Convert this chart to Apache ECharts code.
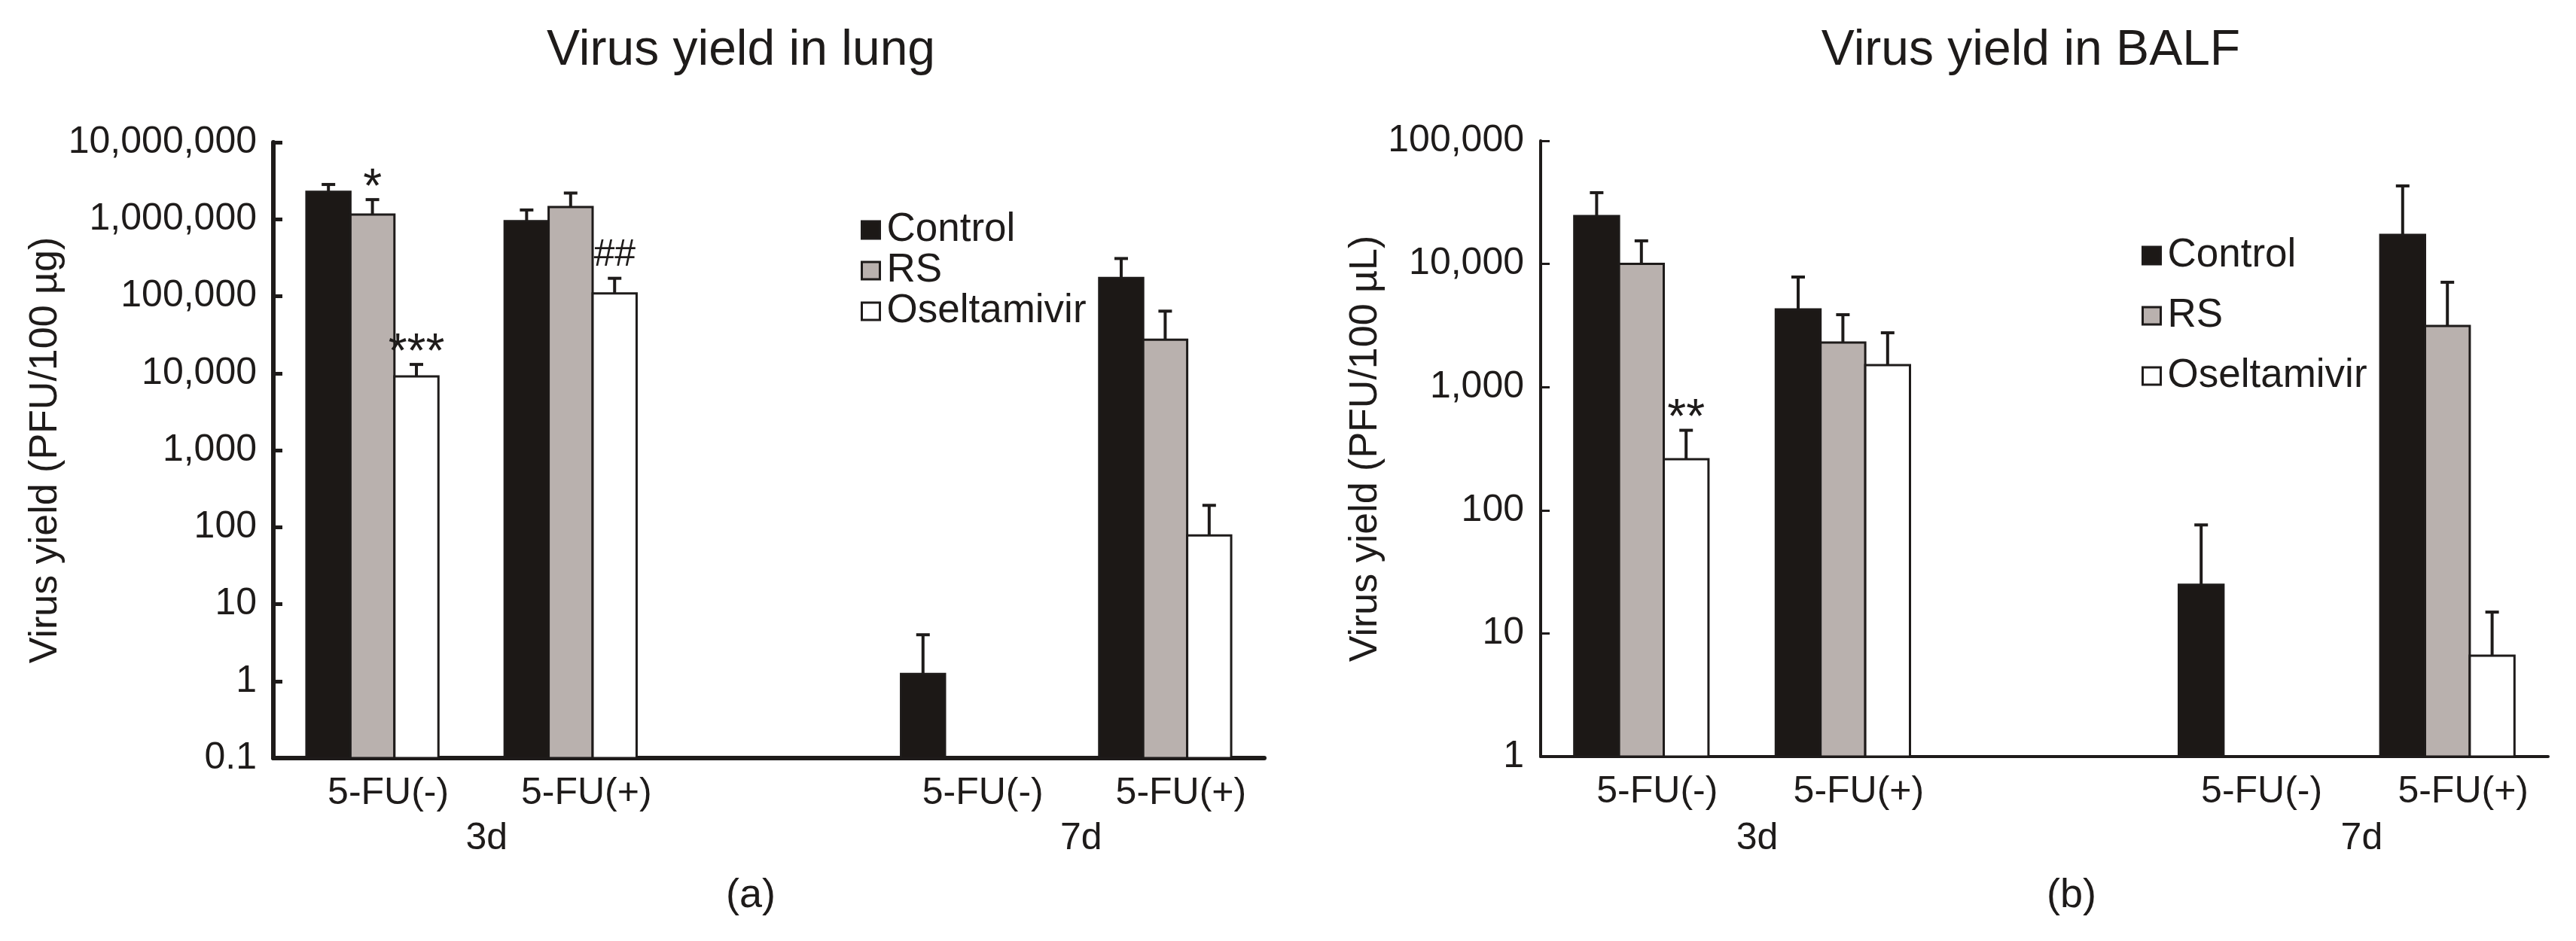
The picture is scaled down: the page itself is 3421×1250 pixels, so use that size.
<!DOCTYPE html>
<html lang="en">
<head>
<meta charset="UTF-8">
<title>Virus yield in lung / BALF</title>
<style>
  html, body { margin: 0; padding: 0; background: #fff; }
  #main { width: 3421px; height: 1250px; }
</style>
</head>
<body>
<div id="main"></div>
<script src="https://cdn.jsdelivr.net/npm/echarts@6/dist/echarts.min.js"></script>
<script>
  // categories on the x axis (third one is the empty gap between 3d and 7d)
  const categories = ['5-FU(-)', '5-FU(+)', '', '5-FU(-)', '5-FU(+)'];
  const dayLabels = ['3d', '7d'];
  const groups = ['Control', 'RS', 'Oseltamivir'];
  const groupColors = ['#1c1816', '#b9b1ae', '#ffffff'];

  // (a) lung, PFU/100 ug : bar value and top of error bar
  const lungControl = [2270000, 944000, null, 1.24, 172600];
  const lungControlErr = [2830000, 1320000, null, 4.0, 309000];
  const lungRS = [1150000, 1440000, null, null, 27200];
  const lungRSErr = [1800000, 2190000, null, null, 64000];
  const lungOsel = [9080, 109000, null, null, 78];
  const lungOselErr = [13000, 171000, null, null, 192];
  const lungSig = [
    ['', '', '', '', ''],
    ['*', '', '', '', ''],
    ['***', '##', '', '', '']
  ];

  // (b) BALF, PFU/100 uL
  const balfControl = [24500, 4270, null, 24.8, 17200];
  const balfControlErr = [37900, 7830, null, 76, 43000];
  const balfRS = [10000, 2300, null, null, 3135];
  const balfRSErr = [15400, 3870, null, null, 7100];
  const balfOsel = [260, 1510, null, null, 6.6];
  const balfOselErr = [446, 2760, null, null, 14.9];
  const balfSig = [
    ['', '', '', '', ''],
    ['', '', '', '', ''],
    ['**', '', '', '', '']
  ];

  const FONT = '"Liberation Sans", Arial, sans-serif';
  const INK = '#1e1b1a';
  const BAR_RATIO = 0.222;

  const myChart = echarts.init(document.getElementById('main'));

  function barSeries(gi, k, values) {
    return {
      name: groups[k],
      type: 'custom',
      xAxisIndex: gi,
      yAxisIndex: gi,
      z: 2,
      itemStyle: { color: groupColors[k], borderColor: INK, borderWidth: 3 },
      renderItem: (params, api) => {
        const v = api.value(1);
        if (!(v > 0)) return null;
        const p = api.coord([api.value(0), v]);
        const w = api.size([1, 0])[0] * BAR_RATIO;
        const cs = params.coordSys;
        return {
          type: 'rect',
          shape: { x: p[0] + (k - 1.5) * w, y: p[1], width: w, height: cs.y + cs.height - p[1] },
          style: api.style()
        };
      },
      data: values.map((v, i) => [i, v])
    };
  }

  function errSeries(gi, k, values, tops, sig) {
    return {
      type: 'custom',
      xAxisIndex: gi,
      yAxisIndex: gi,
      z: 3,
      silent: true,
      renderItem: (params, api) => {
        const top = api.value(2);
        if (!(top > 0)) return null;
        const cat = api.value(0);
        const p0 = api.coord([cat, api.value(1)]);
        const p1 = api.coord([cat, top]);
        const w = api.size([1, 0])[0] * BAR_RATIO;
        const x = p0[0] + (k - 1) * w;
        const children = [
          { type: 'line', shape: { x1: x, y1: p0[1], x2: x, y2: p1[1] }, style: { stroke: INK, lineWidth: 4 } },
          { type: 'line', shape: { x1: x - 9, y1: p1[1], x2: x + 9, y2: p1[1] }, style: { stroke: INK, lineWidth: 4 } }
        ];
        const s = sig[params.dataIndex];
        if (s) {
          const star = s[0] === '*';
          children.push({
            type: 'text',
            x: x,
            y: p1[1] - (star ? 14 : 30),
            style: {
              text: s, fill: INK, fontFamily: FONT, fontSize: star ? 64 : 50,
              align: 'center', verticalAlign: 'middle'
            }
          });
        }
        return { type: 'group', children };
      },
      data: values.map((v, i) => [i, v, tops[i]])
    };
  }

  function fmtLog(v) {
    if (v < 1) return String(+v.toPrecision(3));
    return Math.round(v).toLocaleString('en-US');
  }

  function xAxisOpt(gi, lw) {
    return {
      type: 'category',
      gridIndex: gi,
      data: categories,
      axisLine: { lineStyle: { color: INK, width: lw } },
      axisTick: { inside: true, length: 11, lineStyle: { color: INK, width: lw - 1 } },
      axisLabel: { color: INK, fontFamily: FONT, fontSize: 50, margin: 22, padding: [0, 0, 0, 42] },
      splitLine: { show: false }
    };
  }

  function yAxisOpt(gi, min, max, split, name, gap, lw) {
    return {
      type: 'log',
      logBase: 10,
      gridIndex: gi,
      min: min,
      max: max,
      splitNumber: split,
      name: name,
      nameLocation: 'middle',
      nameGap: gap,
      nameTextStyle: { color: INK, fontFamily: FONT, fontSize: 52 },
      axisLine: { show: true, lineStyle: { color: INK, width: lw } },
      axisTick: { show: true, inside: true, length: 12, lineStyle: { color: INK, width: lw - 1 } },
      axisLabel: { color: INK, fontFamily: FONT, fontSize: 50, margin: 22, formatter: fmtLog },
      splitLine: { show: false },
      minorTick: { show: false }
    };
  }

  function legendOpt(left, top, gap) {
    return {
      orient: 'vertical',
      left: left,
      top: top,
      padding: 0,
      itemGap: gap,
      itemWidth: 24,
      itemHeight: 23,
      selectedMode: false,
      textStyle: { color: INK, fontFamily: FONT, fontSize: 53, padding: [0, 0, 0, 4] },
      data: groups.map((g, k) => ({
        name: g,
        icon: 'rect',
        itemStyle: { color: groupColors[k], borderColor: INK, borderWidth: 3 }
      }))
    };
  }

  const option = {
    backgroundColor: '#fff',
    animation: false,
    grid: [
      { left: 363, top: 189, width: 1316, height: 818 },
      { left: 2046, top: 187, width: 1338, height: 818 }
    ],
    xAxis: [xAxisOpt(0, 6), xAxisOpt(1, 4)],
    yAxis: [
      yAxisOpt(0, 0.1, 10000000, 8, 'Virus yield (PFU/100 \u00b5g)', 272, 6),
      yAxisOpt(1, 1, 100000, 5, 'Virus yield (PFU/100 \u00b5L)', 206, 4)
    ],
    legend: [legendOpt(1143, 279, 1), legendOpt(2844, 313, 27)],
    series: [
      barSeries(0, 0, lungControl),
      barSeries(0, 1, lungRS),
      barSeries(0, 2, lungOsel),
      errSeries(0, 0, lungControl, lungControlErr, lungSig[0]),
      errSeries(0, 1, lungRS, lungRSErr, lungSig[1]),
      errSeries(0, 2, lungOsel, lungOselErr, lungSig[2]),
      barSeries(1, 0, balfControl),
      barSeries(1, 1, balfRS),
      barSeries(1, 2, balfOsel),
      errSeries(1, 0, balfControl, balfControlErr, balfSig[0]),
      errSeries(1, 1, balfRS, balfRSErr, balfSig[1]),
      errSeries(1, 2, balfOsel, balfOselErr, balfSig[2])
    ]
  };

  myChart.setOption(option);

  // titles, panel letters and the 3d / 7d group labels
  function txt(text, x, y, size) {
    return {
      type: 'text', x: x, y: y, silent: true,
      style: { text: text, fill: INK, fontFamily: FONT, fontSize: size, align: 'center', verticalAlign: 'middle' }
    };
  }
  const graphics = [
    txt('Virus yield in lung', 984, 68, 66),
    txt('Virus yield in BALF', 2697, 68, 66),
    txt('(a)', 997, 1190, 54),
    txt('(b)', 2751, 1190, 54)
  ];
  [0, 1].forEach((gi) => {
    // day label sits on the boundary between the two 5-FU categories of each day
    [[0, 1], [3, 4]].forEach((pair, d) => {
      const a = myChart.convertToPixel({ xAxisIndex: gi }, pair[0]);
      const b = myChart.convertToPixel({ xAxisIndex: gi }, pair[1]);
      graphics.push(txt(dayLabels[d], (a + b) / 2 + 20, 1114, 50));
    });
  });
  myChart.setOption({ graphic: graphics });
</script>
</body>
</html>
